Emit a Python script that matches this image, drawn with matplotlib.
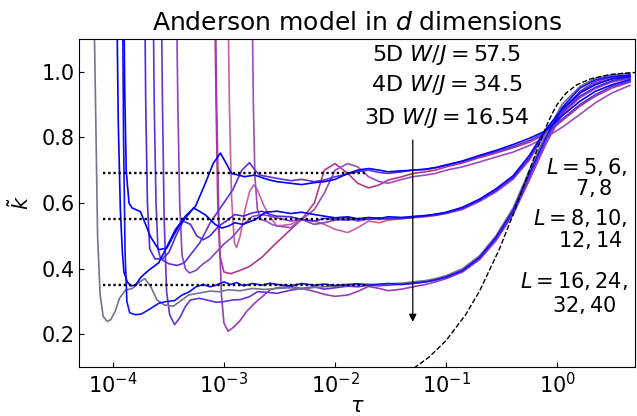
import numpy as np
from matplotlib import pyplot as plt

# shared tau grid for the late-time part of every curve
tail_tau = [0.003, 0.004, 0.005, 0.0065, 0.008, 0.01, 0.013, 0.016, 0.02, 0.025, 0.03,
            0.04, 0.05, 0.065, 0.08, 0.1, 0.14, 0.2, 0.28, 0.4, 0.56, 0.79, 1.1, 1.6,
            2.2, 3.1, 4.5]

# 3D, W/J = 16.54
d3_L40_tau = [6.7e-5, 7.0e-5, 7.3e-5, 7.7e-5, 8.2e-5, 8.9e-5, 9.6e-5, 1.05e-4, 1.15e-4, 1.3e-4,
              1.5e-4, 1.75e-4, 1.95e-4, 2.2e-4, 2.5e-4, 2.9e-4, 3.5e-4, 4.0e-4, 4.8e-4, 6.0e-4,
              7.5e-4, 9.0e-4, 1.1e-3, 1.4e-3, 1.8e-3, 2.3e-3]
d3_L40_k = [1.3, 0.9, 0.5, 0.32, 0.255, 0.24, 0.245, 0.27, 0.31, 0.335, 0.34, 0.36, 0.37, 0.345,
            0.305, 0.29, 0.286, 0.30, 0.32, 0.326, 0.332, 0.33, 0.336, 0.333, 0.34, 0.337]
d3_L40_tail = [0.34, 0.342, 0.338, 0.343, 0.345, 0.347, 0.35, 0.352, 0.353, 0.351, 0.354, 0.356,
               0.36, 0.364, 0.37, 0.379, 0.40, 0.44, 0.50, 0.585, 0.70, 0.81, 0.90, 0.955, 0.98,
               0.99, 0.995]

d3_L32_tau = [1.22e-4, 1.25e-4, 1.29e-4, 1.34e-4, 1.42e-4, 1.6e-4, 1.8e-4, 2.1e-4, 2.6e-4, 3.0e-4,
              3.6e-4, 4.2e-4, 4.9e-4, 5.6e-4, 6.5e-4, 7.5e-4, 8.5e-4, 1.0e-3, 1.15e-3, 1.3e-3,
              1.5e-3, 1.8e-3, 2.2e-3, 2.6e-3]
d3_L32_k = [1.3, 0.8, 0.45, 0.3, 0.266, 0.26, 0.262, 0.275, 0.295, 0.30, 0.303, 0.32, 0.33, 0.345,
            0.352, 0.345, 0.35, 0.36, 0.352, 0.358, 0.348, 0.355, 0.35, 0.356]
d3_L32_tail = [0.352, 0.348, 0.355, 0.35, 0.353, 0.349, 0.352, 0.354, 0.35, 0.353, 0.355, 0.352,
               0.356, 0.36, 0.366, 0.375, 0.395, 0.435, 0.495, 0.578, 0.69, 0.80, 0.89, 0.95,
               0.975, 0.985, 0.99]

d3_L24_tau = [2.72e-4, 2.8e-4, 2.9e-4, 3.05e-4, 3.25e-4, 3.6e-4, 4.0e-4, 4.5e-4, 5.0e-4, 6.0e-4,
              7.0e-4, 8.5e-4, 1.0e-3, 1.2e-3, 1.4e-3, 1.7e-3, 2.0e-3, 2.5e-3]
d3_L24_k = [1.3, 0.9, 0.55, 0.33, 0.26, 0.23, 0.25, 0.285, 0.305, 0.31, 0.305, 0.298, 0.30, 0.305,
            0.306, 0.315, 0.33, 0.328]
d3_L24_tail = [0.325, 0.335, 0.34, 0.345, 0.338, 0.342, 0.347, 0.345, 0.35, 0.348, 0.35, 0.353,
               0.355, 0.36, 0.366, 0.374, 0.393, 0.432, 0.49, 0.57, 0.68, 0.79, 0.88, 0.94, 0.97,
               0.983, 0.988]

d3_L16_tau = [8.3e-4, 8.6e-4, 9.0e-4, 9.5e-4, 1.0e-3, 1.09e-3, 1.2e-3, 1.38e-3, 1.6e-3, 1.9e-3,
              2.3e-3, 2.6e-3]
d3_L16_k = [1.3, 0.9, 0.55, 0.32, 0.235, 0.21, 0.22, 0.24, 0.27, 0.296, 0.32, 0.336]
d3_L16_tail = [0.342, 0.346, 0.34, 0.331, 0.322, 0.316, 0.32, 0.331, 0.346, 0.34, 0.333, 0.338,
               0.345, 0.352, 0.36, 0.37, 0.39, 0.428, 0.485, 0.565, 0.67, 0.78, 0.87, 0.935,
               0.965, 0.978, 0.985]

# 4D, W/J = 34.5
d4_L14_tau = [1.25e-4, 1.28e-4, 1.32e-4, 1.4e-4, 1.49e-4, 1.77e-4, 2.0e-4, 2.18e-4, 2.59e-4, 3.07e-4,
              3.5e-4, 3.92e-4, 5.34e-4, 6.8e-4, 8.4e-4, 9.6e-4, 1.1e-3, 1.25e-3, 1.47e-3, 1.93e-3,
              2.37e-3]
d4_L14_k = [1.3, 0.95, 0.7, 0.6, 0.585, 0.574, 0.53, 0.498, 0.458, 0.463, 0.50, 0.529, 0.585, 0.564,
            0.534, 0.524, 0.53, 0.54, 0.535, 0.55, 0.572]
d4_L14_tail = [0.575, 0.568, 0.572, 0.565, 0.56, 0.555, 0.558, 0.552, 0.556, 0.553, 0.558, 0.556,
               0.559, 0.562, 0.566, 0.572, 0.587, 0.612, 0.643, 0.683, 0.745, 0.825, 0.885, 0.935,
               0.96, 0.978, 0.985]

d4_L12_tau = [1.93e-4, 1.98e-4, 2.05e-4, 2.15e-4, 2.4e-4, 2.8e-4, 3.2e-4, 3.7e-4, 4.3e-4, 5.0e-4,
              5.7e-4, 6.5e-4, 7.5e-4, 9.0e-4, 1.05e-3, 1.25e-3, 1.5e-3, 1.8e-3, 2.2e-3, 2.6e-3]
d4_L12_k = [1.3, 0.9, 0.6, 0.46, 0.43, 0.43, 0.45, 0.50, 0.545, 0.535, 0.50, 0.488, 0.50, 0.53,
            0.545, 0.565, 0.56, 0.57, 0.575, 0.565]
d4_L12_tail = [0.56, 0.558, 0.55, 0.545, 0.553, 0.55, 0.548, 0.552, 0.55, 0.555, 0.551, 0.553,
               0.556, 0.56, 0.563, 0.569, 0.583, 0.607, 0.637, 0.676, 0.735, 0.82, 0.875, 0.925,
               0.952, 0.972, 0.982]

d4_L10_tau = [3.72e-4, 3.85e-4, 4.0e-4, 4.2e-4, 4.5e-4, 4.9e-4, 5.6e-4, 6.5e-4, 7.4e-4, 8.5e-4,
              1.0e-3, 1.2e-3, 1.45e-3, 1.8e-3, 2.2e-3, 2.6e-3]
d4_L10_k = [1.3, 0.9, 0.6, 0.44, 0.40, 0.387, 0.395, 0.415, 0.428, 0.45, 0.475, 0.498, 0.53, 0.559,
            0.565, 0.56]
d4_L10_tail = [0.555, 0.545, 0.55, 0.535, 0.54, 0.548, 0.555, 0.545, 0.552, 0.55, 0.553, 0.555,
               0.558, 0.561, 0.565, 0.571, 0.584, 0.609, 0.638, 0.678, 0.738, 0.82, 0.875, 0.925,
               0.95, 0.97, 0.98]

d4_L8_tau = [1.08e-3, 1.12e-3, 1.17e-3, 1.24e-3, 1.3e-3, 1.4e-3, 1.55e-3, 1.7e-3, 1.85e-3, 2.0e-3,
             2.3e-3, 2.7e-3]
d4_L8_k = [1.3, 0.9, 0.62, 0.48, 0.464, 0.5, 0.58, 0.635, 0.655, 0.64, 0.59, 0.55]
d4_L8_tail = [0.53, 0.535, 0.55, 0.545, 0.535, 0.52, 0.51, 0.525, 0.545, 0.54, 0.548, 0.552,
              0.555, 0.558, 0.562, 0.568, 0.58, 0.605, 0.633, 0.672, 0.73, 0.815, 0.87, 0.92,
              0.948, 0.968, 0.978]

# 5D, W/J = 57.5
d5_L8_tau = [1.08e-4, 1.12e-4, 1.17e-4, 1.22e-4, 1.26e-4, 1.35e-4, 1.45e-4, 1.6e-4, 1.8e-4, 2.1e-4,
             2.59e-4, 3.1e-4, 3.66e-4, 4.5e-4, 5.55e-4, 6.8e-4, 8.0e-4, 9.3e-4, 1.05e-3, 1.17e-3,
             1.35e-3, 1.53e-3, 1.89e-3, 2.3e-3, 2.58e-3]
d5_L8_k = [1.3, 0.85, 0.58, 0.45, 0.39, 0.36, 0.348, 0.35, 0.375, 0.395, 0.418, 0.47, 0.519, 0.56,
           0.59, 0.66, 0.72, 0.752, 0.72, 0.69, 0.685, 0.68, 0.685, 0.675, 0.67]
d5_L8_tail = [0.665, 0.66, 0.656, 0.662, 0.665, 0.672, 0.69, 0.70, 0.705, 0.70, 0.695, 0.698,
              0.70, 0.703, 0.708, 0.716, 0.728, 0.745, 0.76, 0.778, 0.797, 0.82, 0.865, 0.91,
              0.94, 0.96, 0.975]

d5_L7_tau = [2.3e-4, 2.36e-4, 2.45e-4, 2.55e-4, 2.7e-4, 3.2e-4, 3.8e-4, 4.4e-4, 5.2e-4, 6.05e-4,
             7.5e-4, 9.5e-4, 1.2e-3, 1.45e-3, 1.7e-3, 1.9e-3, 2.1e-3, 2.5e-3]
d5_L7_k = [1.3, 0.9, 0.6, 0.46, 0.43, 0.415, 0.41, 0.418, 0.45, 0.478, 0.539, 0.59, 0.64, 0.70,
           0.723, 0.70, 0.685, 0.68]
d5_L7_tail = [0.675, 0.668, 0.672, 0.665, 0.67, 0.68, 0.688, 0.695, 0.70, 0.693, 0.69, 0.695,
              0.70, 0.702, 0.707, 0.714, 0.726, 0.742, 0.756, 0.772, 0.79, 0.815, 0.855, 0.90,
              0.93, 0.955, 0.97]

d5_L6_tau = [8.2e-4, 8.5e-4, 8.8e-4, 9.2e-4, 1.0e-3, 1.15e-3, 1.4e-3, 1.7e-3, 2.2e-3, 2.75e-3]
d5_L6_k = [1.3, 0.9, 0.6, 0.44, 0.39, 0.385, 0.395, 0.407, 0.435, 0.468]
d5_L6_tail = [0.48, 0.52, 0.55, 0.60, 0.70, 0.72, 0.69, 0.66, 0.646, 0.655, 0.67, 0.68, 0.69,
              0.695, 0.70, 0.71, 0.722, 0.738, 0.752, 0.768, 0.785, 0.81, 0.85, 0.895, 0.925,
              0.95, 0.968]

d5_L5_tau = [1.78e-3, 1.84e-3, 1.9e-3, 2.0e-3, 2.15e-3, 2.4e-3, 2.7e-3]
d5_L5_k = [1.3, 0.9, 0.68, 0.58, 0.55, 0.545, 0.535]
d5_L5_tail = [0.53, 0.525, 0.55, 0.58, 0.63, 0.70, 0.72, 0.71, 0.68, 0.665, 0.66, 0.672, 0.68,
              0.685, 0.69, 0.70, 0.71, 0.725, 0.74, 0.755, 0.775, 0.80, 0.83, 0.87, 0.905,
              0.935, 0.958]

# GOE reference curve (dashed)
goe_tau = [0.045, 0.05, 0.07, 0.1, 0.15, 0.2, 0.3, 0.4, 0.5, 0.6, 0.7, 0.8, 0.9, 1.0, 1.2, 1.5,
           2.0, 3.0, 4.0, 5.0]
goe_k = [0.086, 0.095, 0.131, 0.182, 0.261, 0.333, 0.459, 0.565, 0.653, 0.727, 0.787, 0.836,
         0.873, 0.901, 0.935, 0.960, 0.978, 0.991, 0.995, 0.997]

plateau_k = [0.69, 0.55, 0.35]
plateau_tau = [8.2e-5, 0.019]

curves = [
    (d5_L6_tau, d5_L6_k, d5_L6_tail, '#b03a85'),
    (d4_L8_tau, d4_L8_k, d4_L8_tail, '#c8629e'),
    (d3_L16_tau, d3_L16_k, d3_L16_tail, '#9a3cb8'),
    (d5_L5_tau, d5_L5_k, d5_L5_tail, '#9c4cc0'),
    (d4_L10_tau, d4_L10_k, d4_L10_tail, '#8a40c8'),
    (d3_L24_tau, d3_L24_k, d3_L24_tail, '#6a30d8'),
    (d5_L7_tau, d5_L7_k, d5_L7_tail, '#6030dc'),
    (d4_L12_tau, d4_L12_k, d4_L12_tail, '#5028e4'),
    (d3_L40_tau, d3_L40_k, d3_L40_tail, '#74748e'),
    (d3_L32_tau, d3_L32_k, d3_L32_tail, '#1010ff'),
    (d4_L14_tau, d4_L14_k, d4_L14_tail, '#0000ff'),
    (d5_L8_tau, d5_L8_k, d5_L8_tail, '#0000ff'),
]

fig, ax = plt.subplots(figsize=(6.37, 4.16), dpi=100)
fig.subplots_adjust(left=0.1245, right=0.997, bottom=0.117, top=0.907)

for tau, k, tail, col in curves:
    ax.plot(tau + tail_tau, k + tail, color=col, lw=1.2)

for p in plateau_k:
    ax.plot(plateau_tau, [p, p], color='k', ls=(0, (1, 1.2)), lw=1.7)

ax.plot(goe_tau, goe_k, 'k--', lw=1)

ax.annotate('', xy=(0.05, 0.23), xytext=(0.05, 0.80),
            arrowprops=dict(arrowstyle='-|>', color='k', lw=0.9, mutation_scale=11))

fs = 15
ax.text(0.1, 1.05, '5D $W/J = 57.5$', ha='center', va='center', fontsize=16)
ax.text(0.1, 0.958, '4D $W/J = 34.5$', ha='center', va='center', fontsize=16)
ax.text(0.1, 0.858, '3D $W/J = 16.54$', ha='center', va='center', fontsize=16)

ax.text(4.28, 0.711, '$L = 5, 6,$', ha='right', va='center', fontsize=fs)
ax.text(3.14, 0.646, '$7, 8$', ha='right', va='center', fontsize=fs)
ax.text(4.28, 0.555, '$L = 8, 10,$', ha='right', va='center', fontsize=fs)
ax.text(3.86, 0.488, '$12, 14$', ha='right', va='center', fontsize=fs)
ax.text(4.28, 0.362, '$L = 16, 24,$', ha='right', va='center', fontsize=fs)
ax.text(3.37, 0.291, '$32, 40$', ha='right', va='center', fontsize=fs)

ax.set_xscale('log')
ax.set_xlim(5e-5, 5)
ax.set_ylim(0.1, 1.1)
ax.set_yticks([0.2, 0.4, 0.6, 0.8, 1.0])
ax.xaxis.set_minor_locator(plt.NullLocator())
ax.tick_params(direction='in', labelsize=fs)
ax.set_title('Anderson model in $d$ dimensions', fontsize=18)
ax.set_xlabel(r'$\tau$', fontsize=fs)
ax.set_ylabel(r'$\tilde{k}$', fontsize=fs)
ax.xaxis.set_label_coords(0.5, -0.088)
ax.yaxis.set_label_coords(-0.083, 0.5)

fig.savefig('out.png', dpi=100)
